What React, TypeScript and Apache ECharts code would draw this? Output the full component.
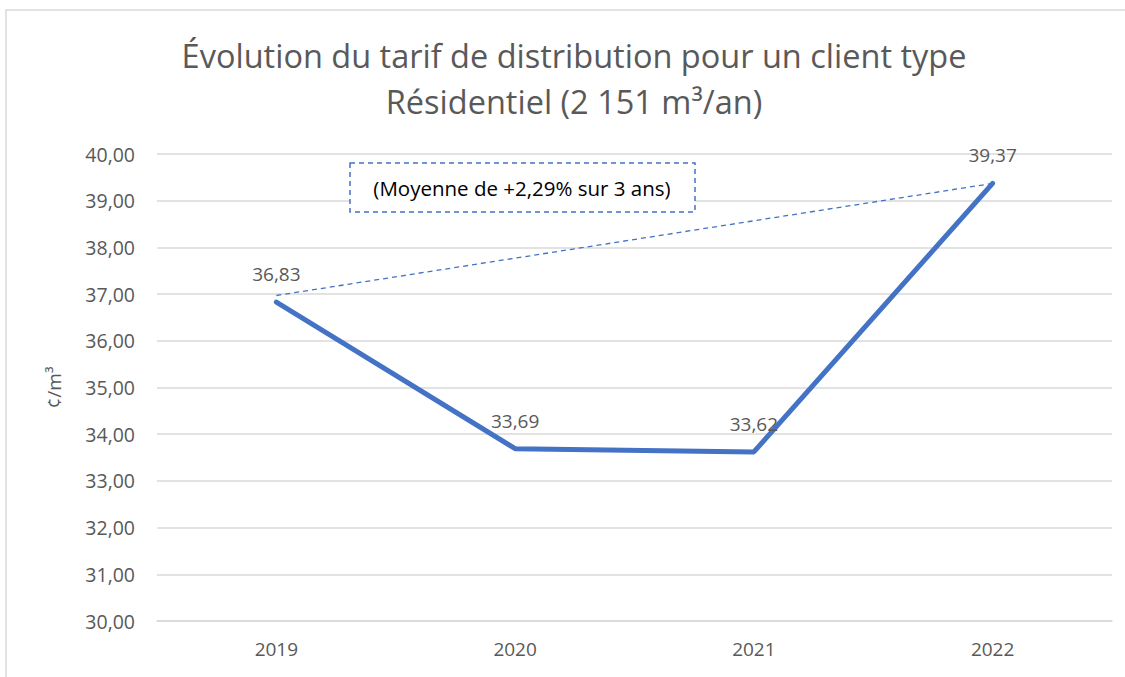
import React, { useEffect, useRef } from "react";
import * as echarts from "echarts";

const categories = ["2019", "2020", "2021", "2022"];
const tarif = [36.83, 33.69, 33.62, 39.37];
const trend = [36.97, null, null, 39.37];
const titleLines = ["Évolution du tarif de distribution pour un client type", "Résidentiel (2 151 m³/an)"];
const annotation = "(Moyenne de +2,29% sur 3 ans)";
const yName = "¢/m³";

const FONT = "'Open Sans', 'Noto Sans', sans-serif";

export default function App() {
  const ref = useRef<HTMLDivElement>(null);
  useEffect(() => {
    document.body.style.margin = "0";
    const chart = echarts.init(ref.current!, null, { renderer: "svg" });
    chart.setOption({
      animation: false,
      backgroundColor: "#ffffff",
      textStyle: { fontFamily: FONT },
      title: {
        text: titleLines.join("\n"),
        left: 569,
        top: 27,
        textAlign: "center",
        textStyle: { fontSize: 32.5, fontWeight: "normal", color: "#595959", lineHeight: 46, fontFamily: FONT },
      },
      grid: { left: 157, right: 13, top: 154, bottom: 56 },
      xAxis: {
        type: "category",
        data: categories,
        boundaryGap: true,
        axisLine: { show: true, lineStyle: { color: "#d9d9d9", width: 1.5 } },
        axisTick: { show: false },
        axisLabel: { color: "#595959", fontSize: 19, margin: 18, fontFamily: FONT },
      },
      yAxis: {
        type: "value",
        min: 30,
        max: 40,
        interval: 1,
        name: yName,
        nameLocation: "middle",
        nameGap: 94,
        nameTextStyle: { color: "#595959", fontSize: 19, fontFamily: FONT },
        axisLine: { show: false },
        axisTick: { show: false },
        splitLine: { lineStyle: { color: "#d9d9d9", width: 1.5 } },
        axisLabel: {
          color: "#595959",
          fontSize: 19.5,
          margin: 22,
          fontFamily: FONT,
          formatter: (v: number) => v.toFixed(2).replace(".", ","),
        },
      },
      series: [
        {
          type: "line",
          data: trend,
          connectNulls: true,
          symbol: "none",
          lineStyle: { color: "#4472C4", width: 1.3, type: [5, 4] },
          z: 2,
        },
        {
          type: "line",
          data: tarif,
          symbol: "circle",
          symbolSize: 1,
          showSymbol: true,
          itemStyle: { color: "#4472C4" },
          lineStyle: { color: "#4472C4", width: 5, cap: "round" },
          label: {
            show: true,
            position: "top",
            distance: 18,
            color: "#595959",
            fontSize: 19,
            fontFamily: FONT,
            formatter: (p: any) => p.value.toFixed(2).replace(".", ","),
          },
          labelLayout: { hideOverlap: false },
          z: 3,
        },
      ],
      graphic: [
        {
          type: "rect",
          shape: { x: 6, y: 10, width: 1200, height: 800 },
          style: { fill: "none", stroke: "#d9d9d9", lineWidth: 1.5 },
          silent: true,
        },
        {
          type: "rect",
          shape: { x: 350, y: 163, width: 345, height: 49 },
          style: { fill: "#ffffff", stroke: "#4472C4", lineWidth: 1.5, lineDash: [5, 4] },
          z: 10,
        },
        {
          type: "text",
          x: 522,
          y: 188,
          style: {
            text: annotation,
            fill: "#000000",
            font: `20.5px ${FONT}`,
            textAlign: "center",
            textVerticalAlign: "middle",
          },
          z: 11,
        },
      ],
    });
    return () => chart.dispose();
  }, []);
  return <div ref={ref} style={{ width: 1125, height: 677 }} />;
}
